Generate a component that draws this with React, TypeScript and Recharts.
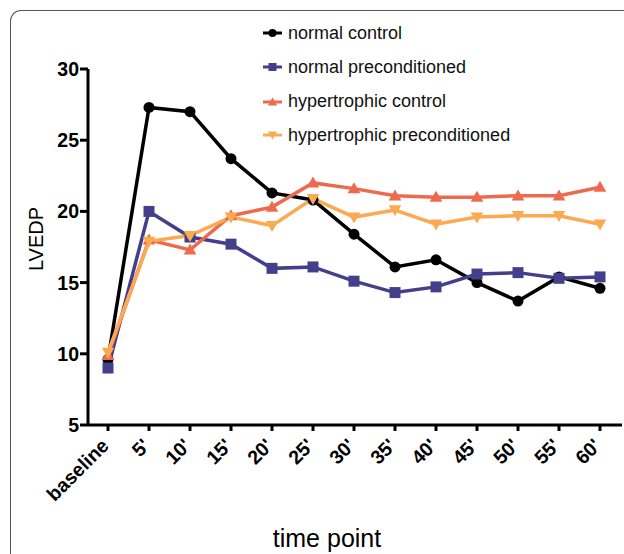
import React from 'react';
import { LineChart, Line, XAxis, YAxis, Label } from 'recharts';

const timePoints = ['baseline', "5'", "10'", "15'", "20'", "25'", "30'", "35'", "40'", "45'", "50'", "55'", "60'"];
const normalControl = [9.6, 27.3, 27.0, 23.7, 21.3, 20.8, 18.4, 16.1, 16.6, 15.0, 13.7, 15.4, 14.6];
const normalPreconditioned = [9.0, 20.0, 18.2, 17.7, 16.0, 16.1, 15.1, 14.3, 14.7, 15.6, 15.7, 15.3, 15.4];
const hypertrophicControl = [9.9, 18.0, 17.3, 19.7, 20.3, 22.0, 21.6, 21.1, 21.0, 21.0, 21.1, 21.1, 21.7];
const hypertrophicPreconditioned = [10.1, 17.9, 18.3, 19.6, 19.0, 20.9, 19.6, 20.1, 19.1, 19.6, 19.7, 19.7, 19.1];
const yTicks = [5, 10, 15, 20, 25, 30];

const FONT = '"Liberation Sans", Arial, Helvetica, sans-serif';

type Shape = 'circle' | 'square' | 'triangle' | 'triangleDown';

const series: { key: string; name: string; color: string; shape: Shape; values: number[] }[] = [
  { key: 'nc', name: 'normal control', color: '#000000', shape: 'circle', values: normalControl },
  { key: 'np', name: 'normal preconditioned', color: '#443f8b', shape: 'square', values: normalPreconditioned },
  { key: 'hc', name: 'hypertrophic control', color: '#ee6a4e', shape: 'triangle', values: hypertrophicControl },
  { key: 'hp', name: 'hypertrophic preconditioned', color: '#fbaa52', shape: 'triangleDown', values: hypertrophicPreconditioned },
];

const data = timePoints.map((t, i) => {
  const row: Record<string, string | number> = { time: t };
  series.forEach((s) => { row[s.key] = s.values[i]; });
  return row;
});

function markerPath(shape: Shape, cx: number, cy: number, r: number) {
  if (shape === 'square') return `M${cx - r},${cy - r}h${2 * r}v${2 * r}h${-2 * r}Z`;
  if (shape === 'triangle') return `M${cx},${cy - r * 1.15}L${cx + r * 1.15},${cy + r * 0.85}L${cx - r * 1.15},${cy + r * 0.85}Z`;
  if (shape === 'triangleDown') return `M${cx},${cy + r * 1.15}L${cx + r * 1.15},${cy - r * 0.85}L${cx - r * 1.15},${cy - r * 0.85}Z`;
  return '';
}

function Marker({ cx, cy, shape, color, r }: { cx: number; cy: number; shape: Shape; color: string; r: number }) {
  if (shape === 'circle') return <circle cx={cx} cy={cy} r={r} fill={color} />;
  return <path d={markerPath(shape, cx, cy, r)} fill={color} />;
}

function XTick({ x, y, payload }: any) {
  return (
    <g transform={`translate(${x + 2},${y + 14})`}>
      <text x={0} y={0} textAnchor="end" transform="rotate(-45)" fontSize={19.5} fontWeight="bold" fill="#000" fontFamily={FONT}>
        {payload.value}
      </text>
    </g>
  );
}

export default function App() {
  return (
    <div style={{ position: 'absolute', left: 0, top: 0, width: 624, height: 554, overflow: 'hidden', background: '#fff', fontFamily: FONT }}>
      <div style={{ position: 'absolute', left: 10, top: 10, width: 700, height: 700, borderLeft: '1.5px solid #555', borderTop: '1.5px solid #555', borderTopLeftRadius: 11 }} />
      <LineChart width={624} height={554} data={data} margin={{ top: 69, right: 2, bottom: 0, left: 28 }}>
        <XAxis
          dataKey="time"
          interval={0}
          padding={{ left: 20, right: 22 }}
          height={129}
          tickSize={6}
          tick={<XTick />}
          axisLine={{ stroke: '#000', strokeWidth: 3 }}
          tickLine={{ stroke: '#000', strokeWidth: 3 }}
        >
          <Label
            content={() => (
              <text x={327} y={547} textAnchor="middle" fontSize={25} fill="#000" fontFamily={FONT}>time point</text>
            )}
          />
        </XAxis>
        <YAxis
          domain={[5, 30]}
          ticks={yTicks}
          width={60}
          tickSize={8}
          tickMargin={1}
          tick={{ fontSize: 19.5, fontWeight: 'bold', fill: '#000', fontFamily: FONT }}
          axisLine={{ stroke: '#000', strokeWidth: 3 }}
          tickLine={{ stroke: '#000', strokeWidth: 3 }}
        >
          <Label
            content={() => (
              <text x={43} y={239} textAnchor="middle" transform="rotate(-90 43 239)" fontSize={20} fill="#000" fontFamily={FONT}>LVEDP</text>
            )}
          />
        </YAxis>
        {series.map((s) => (
          <Line
            key={s.key}
            dataKey={s.key}
            name={s.name}
            stroke={s.color}
            strokeWidth={3.5}
            strokeLinejoin="miter"
            isAnimationActive={false}
            dot={(p: any) => <Marker key={`${s.key}-${p.index}`} cx={p.cx} cy={p.cy} shape={s.shape} color={s.color} r={5.5} />}
            activeDot={false}
          />
        ))}
      </LineChart>
      <div style={{ position: 'absolute', left: 262, top: 20 }}>
        {series.map((s, i) => (
          <div key={s.key} style={{ position: 'absolute', left: 0, top: [0, 34, 68.5, 102][i], height: 26, display: 'flex', alignItems: 'center', whiteSpace: 'nowrap' }}>
            <svg width={22} height={14} style={{ display: 'block' }}>
              <line x1={1} y1={7} x2={20} y2={7} stroke={s.color} strokeWidth={3} />
              <Marker cx={10.5} cy={7} shape={s.shape} color={s.color} r={4} />
            </svg>
            <span style={{ marginLeft: 4, fontSize: 18, color: '#111' }}>{s.name}</span>
          </div>
        ))}
      </div>
    </div>
  );
}
